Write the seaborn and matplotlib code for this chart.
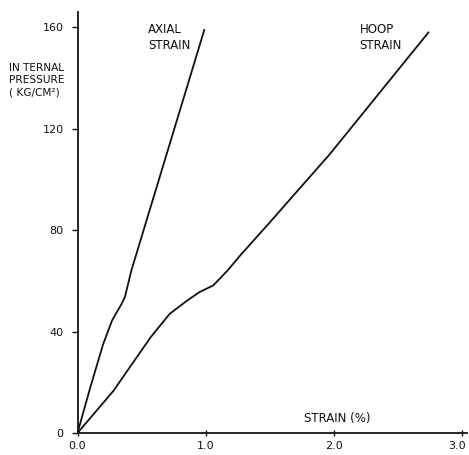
import matplotlib
matplotlib.use("Agg")
import matplotlib.pyplot as plt
import matplotlib.transforms as mtransforms
import seaborn as sns
import pandas as pd

# strain (%) vs internal pressure (kg/cm2)
axial_strain = [0.0, 0.10, 0.20, 0.27, 0.345, 0.37, 0.42, 0.51, 0.99]
axial_pressure = [0, 18, 35, 44.4, 51, 53.6, 64, 79, 159]

hoop_strain = [0.0, 0.28, 0.57, 0.72, 0.85, 0.95, 1.06, 1.17, 1.27, 1.50, 1.97, 2.74]
hoop_pressure = [0, 16.6, 37.7, 47, 52, 55.5, 58.2, 64, 70, 83, 110, 158]

x_ticks = [0.0, 1.0, 2.0, 3.0]
x_ticklabels = ["0.0", "1.0", "2.0", "3.0"]
y_ticks = [0, 40, 80, 120, 160]

df = pd.concat([
    pd.DataFrame({"strain": axial_strain, "pressure": axial_pressure, "curve": "axial"}),
    pd.DataFrame({"strain": hoop_strain, "pressure": hoop_pressure, "curve": "hoop"}),
])

sns.set_style("ticks")
plt.rcParams['font.family'] = ['DejaVu Sans']

fig = plt.figure(figsize=(4.69, 4.55), dpi=100)
ax = fig.add_axes([77.5 / 469, 22 / 455, (467 - 77.5) / 469, 421 / 455])

sns.lineplot(data=df, x="strain", y="pressure", units="curve", estimator=None,
             sort=False, color="#111111", linewidth=1.3, ax=ax)

ax.set_xlim(0, 3.04)
ax.set_ylim(0, 166)
ax.set_xticks(x_ticks)
ax.set_xticklabels(x_ticklabels)
ax.set_yticks(y_ticks)
ax.tick_params(axis="both", labelsize=8, color="#111111", labelcolor="#111111",
               length=4, width=1)
ax.tick_params(axis="x", direction="inout", pad=4)
ax.tick_params(axis="y", pad=6)
ax.set_xlabel("")
ax.set_ylabel("")
sns.despine(ax=ax)
for s in ["left", "bottom"]:
    ax.spines[s].set_color("#111111")
    ax.spines[s].set_linewidth(1.3)

# nudge the last x label so it stays inside the figure
last = ax.get_xticklabels()[-1]
last.set_transform(last.get_transform() +
                   mtransforms.ScaledTranslation(-5 / 100, 0, fig.dpi_scale_trans))

fs = 8.5
ax.text(0.55, 156, "AXIAL\nSTRAIN", fontsize=fs, ha="left", va="center",
        linespacing=1.25, color="#111111")
ax.text(2.20, 156, "HOOP\nSTRAIN", fontsize=fs, ha="left", va="center",
        linespacing=1.25, color="#111111")
ax.text(2.03, 3, "STRAIN (%)", fontsize=fs, ha="center", va="bottom", color="#111111")
fig.text(9 / 469, 1 - 80 / 455, "IN TERNAL\nPRESSURE\n( KG/CM²)", fontsize=7.6,
         ha="left", va="center", linespacing=1.3, color="#111111")

fig.savefig("out.png", dpi=100)
